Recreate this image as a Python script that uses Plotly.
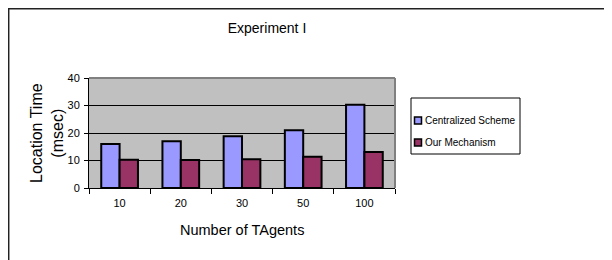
import plotly.graph_objects as go

categories = ["10", "20", "30", "50", "100"]
centralized = [16, 17, 18.8, 21, 30.3]
our_mechanism = [10.3, 10.2, 10.5, 11.4, 13.1]
y_ticks = [0, 10, 20, 30, 40]
series_names = ["Centralized Scheme", "Our Mechanism"]
series_colors = ["#9999FF", "#993366"]

FONT = "Arial, Liberation Sans, sans-serif"

# page has an 8px body margin: work in figure coordinates = screen - 8
OFF = 8
W, H = 612 - OFF, 260 - OFF
L, R, T, B = 89 - OFF, 395 - OFF, 78 - OFF, 188 - OFF
pw, ph = R - L, B - T

def px(x):
    return (x - OFF - L) / pw

def py(y):
    return (B - (y - OFF)) / ph

fig = go.Figure()
for name, vals, col in zip(series_names, [centralized, our_mechanism], series_colors):
    fig.add_trace(go.Bar(name=name, x=categories, y=vals, showlegend=False,
                         marker=dict(color=col, line=dict(color="black", width=2))))

fig.update_layout(
    width=W, height=H,
    margin=dict(l=L, r=W - R, t=T, b=H - B, pad=0),
    paper_bgcolor="white",
    plot_bgcolor="#C0C0C0",
    barmode="group",
    bargap=0.4,
    bargroupgap=0,
    font=dict(family=FONT, color="black"),
    title=dict(text="Experiment I", x=px(267), xref="paper", xanchor="center",
               y=1 - (28 - OFF) / H, yref="container", yanchor="middle",
               font=dict(size=14, family=FONT, color="black")),
    xaxis=dict(type="category", showline=True, linecolor="black", linewidth=1,
               ticks="outside", tickson="boundaries", ticklen=5, tickcolor="black",
               tickfont=dict(size=11), showgrid=False, automargin=False,
               ticklabelstandoff=5),
    yaxis=dict(range=[0, 40], tickvals=y_ticks, showline=True, linecolor="black",
               linewidth=1, ticks="outside", ticklen=4, tickcolor="black",
               tickfont=dict(size=11), showgrid=True, gridcolor="black", gridwidth=1,
               zeroline=False, automargin=False, ticklabelstandoff=2),
    showlegend=False,
)

fig.add_annotation(text="Location Time<br>(msec)", xref="paper", yref="paper",
                   x=px(47), y=py(133), textangle=-90, showarrow=False,
                   font=dict(size=16, family=FONT), xanchor="center", yanchor="middle")
fig.add_annotation(text="Number of TAgents", xref="paper", yref="paper",
                   x=px(242), y=py(230), showarrow=False,
                   font=dict(size=14.5, family=FONT), xanchor="center", yanchor="middle")

# plot area border (gray top/right)
fig.add_shape(type="line", xref="paper", yref="paper", x0=0, x1=1, y0=1, y1=1,
              line=dict(color="#808080", width=2), layer="above")
fig.add_shape(type="line", xref="paper", yref="paper", x0=1, x1=1, y0=0, y1=1,
              line=dict(color="#808080", width=2), layer="above")

# legend (drawn by hand to match the compact original layout)
fig.add_shape(type="rect", xref="paper", yref="paper",
              x0=px(411), x1=px(520), y0=py(98), y1=py(154),
              line=dict(color="black", width=1), fillcolor="white")
legend_y = [120.5, 142.5]
for name, col, yc in zip(series_names, series_colors, legend_y):
    fig.add_shape(type="rect", xref="paper", yref="paper",
                  x0=px(414.5), x1=px(421.5), y0=py(yc + 3.5), y1=py(yc - 3.5),
                  line=dict(color="black", width=1.5), fillcolor=col)
    fig.add_annotation(text=name, xref="paper", yref="paper", x=px(423.5), y=py(yc),
                       showarrow=False, xanchor="left", yanchor="middle",
                       font=dict(size=10, family=FONT))

# outer chart border (left and top edges visible)
fig.add_shape(type="rect", xref="paper", yref="paper",
              x0=px(8.7), x1=px(660), y0=py(8.7), y1=py(300),
              line=dict(color="#222222", width=1.5), fillcolor="rgba(0,0,0,0)")

fig.write_html("out.html")
